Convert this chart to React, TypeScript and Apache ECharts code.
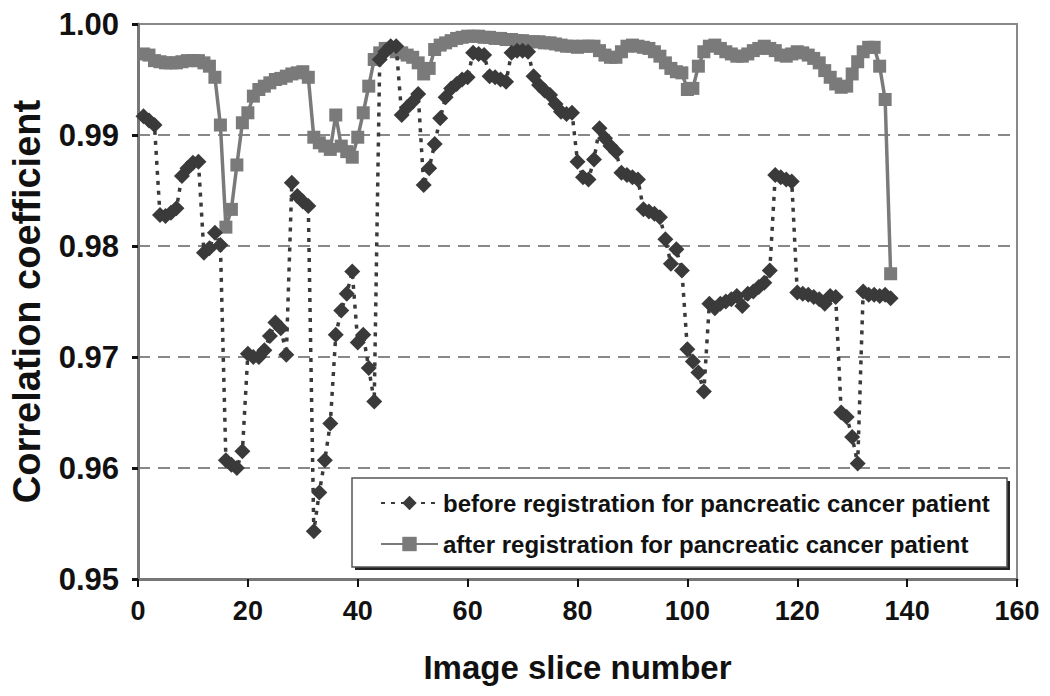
import React, { useEffect, useRef } from "react";
import * as echarts from "echarts";

const xTicks = [0, 20, 40, 60, 80, 100, 120, 140, 160];
const yTicks = [0.95, 0.96, 0.97, 0.98, 0.99, 1.0];

const seriesNames = [
  "before registration for pancreatic cancer patient",
  "after registration for pancreatic cancer patient",
];

// slice 1..137
const before = [
  0.9917, 0.9913, 0.9909, 0.9828, 0.9827, 0.983, 0.9834, 0.9863, 0.987, 0.9875,
  0.9876, 0.9794, 0.9798, 0.9812, 0.9801, 0.9607, 0.9603, 0.96, 0.9615, 0.9703,
  0.97, 0.97, 0.9706, 0.9719, 0.9731, 0.9726, 0.9702, 0.9857, 0.9845, 0.984,
  0.9836, 0.9543, 0.9578, 0.9607, 0.964, 0.972, 0.9742, 0.9757, 0.9777, 0.9713,
  0.972, 0.969, 0.966, 0.9968, 0.9975, 0.998, 0.998, 0.9918, 0.9925, 0.993,
  0.9937, 0.9855, 0.987, 0.9892, 0.9915, 0.9934, 0.9942, 0.9946, 0.995, 0.9952,
  0.9974, 0.9973, 0.9972, 0.9953, 0.9952, 0.995, 0.9948, 0.9974, 0.9976, 0.9976,
  0.9975, 0.9953, 0.9945, 0.994, 0.9936, 0.9928, 0.9921, 0.9919, 0.992, 0.9876,
  0.9862, 0.986, 0.9878, 0.9906, 0.9897, 0.989, 0.9885, 0.9866, 0.9864, 0.9862,
  0.986, 0.9833, 0.9831, 0.9829, 0.9826, 0.9806, 0.9784, 0.9797, 0.9778, 0.9707,
  0.9696, 0.9686, 0.9669, 0.9748, 0.9744, 0.9748, 0.975, 0.9752, 0.9755, 0.9746,
  0.9757, 0.9759, 0.9763, 0.9767, 0.9778, 0.9864, 0.9862, 0.986, 0.9858, 0.9758,
  0.9757, 0.9756, 0.9754, 0.9752, 0.9748, 0.9755, 0.9754, 0.965, 0.9646, 0.9628,
  0.9604, 0.9759, 0.9756, 0.9756, 0.9755, 0.9756, 0.9753,
];

const after = [
  0.9973, 0.9972, 0.9967, 0.9966, 0.9965, 0.9965, 0.9965, 0.9966, 0.9967, 0.9967,
  0.9967, 0.9965, 0.9962, 0.9952, 0.9909, 0.9817, 0.9833, 0.9873, 0.9911, 0.992,
  0.9935, 0.9941, 0.9944, 0.9947, 0.995, 0.9951, 0.9953, 0.9955, 0.9956, 0.9957,
  0.9952, 0.9898, 0.9893, 0.989, 0.9887, 0.9918, 0.989, 0.9885, 0.988, 0.9898,
  0.992, 0.9944, 0.9968, 0.9974, 0.9978, 0.9978, 0.9975, 0.9974, 0.9972, 0.997,
  0.9965, 0.9955, 0.996, 0.9977, 0.9981, 0.9983, 0.9985, 0.9987, 0.9988, 0.9989,
  0.9989, 0.9989, 0.9988, 0.9988, 0.9987, 0.9987, 0.9986, 0.9986, 0.9985, 0.9985,
  0.9984, 0.9984, 0.9984, 0.9983, 0.9983, 0.9982, 0.9981, 0.998, 0.998, 0.9979,
  0.998, 0.998, 0.998, 0.9976, 0.9972, 0.997, 0.997, 0.9975, 0.998, 0.9981,
  0.998, 0.9979, 0.9978, 0.9975, 0.9971, 0.9965, 0.996, 0.9957, 0.9956, 0.9941,
  0.9942, 0.9962, 0.9975, 0.998, 0.9981, 0.9978, 0.9975, 0.9973, 0.9971, 0.9971,
  0.9973, 0.9976, 0.9978, 0.998, 0.9978, 0.9976, 0.9972, 0.9971, 0.9973, 0.9975,
  0.9974, 0.9972, 0.9969, 0.9965, 0.9958, 0.9952, 0.9946, 0.9943, 0.9944, 0.9955,
  0.9966, 0.9975, 0.9979, 0.9979, 0.9962, 0.9932, 0.9775,
];

const FONT = "'Liberation Sans', Arial, sans-serif";

export default function App() {
  const ref = useRef<HTMLDivElement>(null);
  useEffect(() => {
    if (!ref.current) return;
    const chart = echarts.init(ref.current, null, { renderer: "svg" });
    const toPairs = (arr: number[]) => arr.map((v, i) => [i + 1, v]);
    chart.setOption({
      animation: false,
      backgroundColor: "#ffffff",
      textStyle: { fontFamily: FONT },
      grid: {
        left: 127,
        right: 33,
        top: 24,
        bottom: 117,
        show: true,
        borderColor: "#888",
        borderWidth: 2,
      },
      xAxis: {
        type: "value",
        min: xTicks[0],
        max: xTicks[xTicks.length - 1],
        interval: 20,
        name: "Image slice number",
        nameLocation: "middle",
        nameGap: 72,
        nameTextStyle: { fontSize: 33, fontWeight: "bold", color: "#111", fontFamily: FONT },
        axisLine: { lineStyle: { color: "#777", width: 3 } },
        axisTick: { show: true, length: 8, lineStyle: { color: "#111", width: 2 } },
        axisLabel: { fontSize: 27, fontWeight: "bold", color: "#111", margin: 18, fontFamily: FONT },
        splitLine: { show: false },
      },
      yAxis: {
        type: "value",
        min: yTicks[0],
        max: yTicks[yTicks.length - 1],
        interval: 0.01,
        name: "Correlation coefficient",
        nameLocation: "middle",
        nameGap: 92,
        nameTextStyle: { fontSize: 38, fontWeight: "bold", color: "#111", fontFamily: FONT },
        axisLine: { show: true, lineStyle: { color: "#777", width: 3 } },
        axisTick: { show: true, length: 6, lineStyle: { color: "#111", width: 3 } },
        axisLabel: {
          fontSize: 31,
          fontWeight: "bold",
          color: "#111",
          margin: 19,
          fontFamily: FONT,
          formatter: (v: number) => v.toFixed(2),
        },
        splitLine: { show: true, lineStyle: { color: "#888", width: 2, type: [12, 8] } },
      },
      legend: {
        orient: "vertical",
        left: 375,
        top: 484,
        z: 20,
        itemWidth: 57,
        itemHeight: 18,
        itemGap: 13,
        textStyle: { fontSize: 24, lineHeight: 28, fontWeight: "bold", color: "#111", fontFamily: FONT },
        data: seriesNames,
      },
      graphic: [
        {
          type: "rect",
          z: 1,
          shape: { x: 355, y: 481, width: 655, height: 89 },
          style: { fill: "#222" },
        },
        {
          type: "rect",
          z: 2,
          shape: { x: 352, y: 478, width: 655, height: 89 },
          style: { fill: "#fff", stroke: "#555", lineWidth: 1.5 },
        },
      ],
      series: [
        {
          name: seriesNames[0],
          type: "line",
          data: toPairs(before),
          symbol: "diamond",
          symbolSize: 16,
          z: 4,
          itemStyle: { color: "#3a3a3a" },
          lineStyle: { color: "#3a3a3a", width: 3.5, type: [4, 6] },
        },
        {
          name: seriesNames[1],
          type: "line",
          data: toPairs(after),
          symbol: "rect",
          symbolSize: 13,
          z: 3,
          itemStyle: { color: "#7a7a7a" },
          lineStyle: { color: "#7a7a7a", width: 3.5 },
        },
      ],
    });
    return () => chart.dispose();
  }, []);
  return (
    <div
      ref={ref}
      style={{ position: "absolute", left: 0, top: 0, width: 1050, height: 696, background: "#fff" }}
    />
  );
}
